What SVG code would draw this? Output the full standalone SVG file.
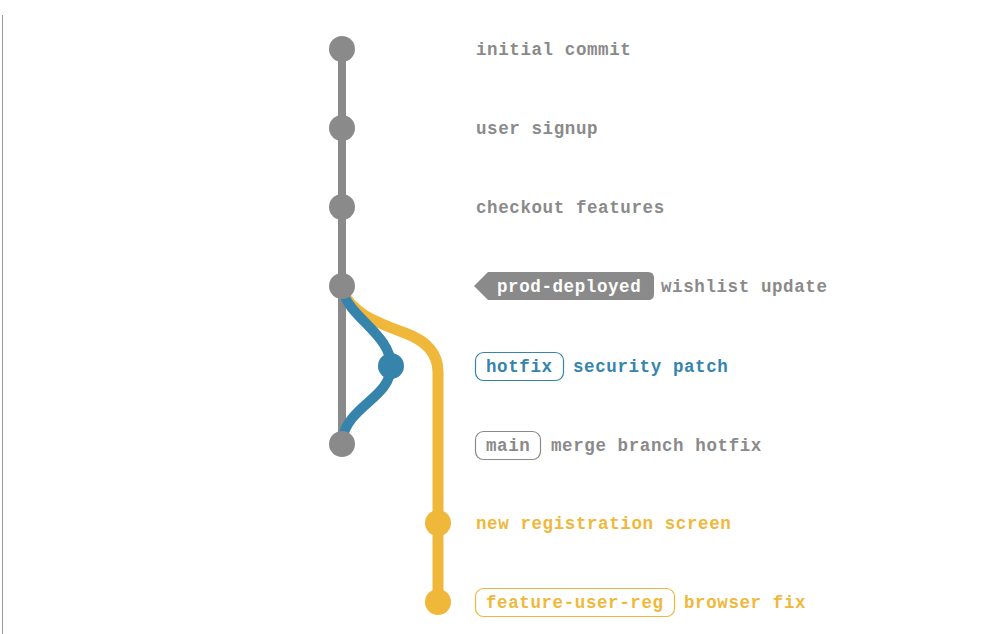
<svg xmlns="http://www.w3.org/2000/svg" width="992" height="634" viewBox="0 0 992 634">
<style>
.t{font-family:"Liberation Mono","DejaVu Sans Mono",monospace;font-weight:bold;font-size:17.5px;letter-spacing:0.6px;dominant-baseline:central}
.g{fill:#8a8a8a}.b{fill:#3684ac}.y{fill:#efb83a}
</style>
<rect width="992" height="634" fill="#fff"/>
<line x1="2.5" y1="15" x2="2.5" y2="634" stroke="#999" stroke-width="1"/>
<g id="connectors" fill="none" stroke-linecap="round">
<line x1="342" y1="49" x2="342" y2="444" stroke="#8a8a8a" stroke-width="8"/>
<path d="M342,290 C350,312 375,322 405,333 Q438,345 438,372 L438,602" stroke="#efb83a" stroke-width="11"/>
<path d="M342,290 C350,318 391,335 391,366 C391,398 348,405 342,440" stroke="#3684ac" stroke-width="10"/>
</g>
<g id="n1"><circle cx="342" cy="49" r="13" fill="#8a8a8a"/><text class="t g" x="476" y="50">initial commit</text></g>
<g id="n2"><circle cx="342" cy="128" r="13" fill="#8a8a8a"/><text class="t g" x="476" y="129">user signup</text></g>
<g id="n3"><circle cx="342" cy="207" r="13" fill="#8a8a8a"/><text class="t g" x="476" y="208">checkout features</text></g>
<g id="n4"><circle cx="342" cy="286" r="13" fill="#8a8a8a"/>
<path d="M474,286 L488,272 H648 Q654,272 654,278 V294 Q654,300 648,300 H488 Z" fill="#8a8a8a"/>
<text class="t" x="497" y="287" fill="#fff">prod-deployed</text>
<text class="t g" x="661" y="287">wishlist update</text></g>
<g id="n5"><circle cx="391" cy="366" r="13" fill="#3684ac"/>
<rect x="475.5" y="352.5" width="88" height="28" rx="8" fill="none" stroke="#3684ac" stroke-width="1.2"/>
<text class="t b" x="486" y="367">hotfix</text><text class="t b" x="573" y="367">security patch</text></g>
<g id="n6"><circle cx="342" cy="444" r="13" fill="#8a8a8a"/>
<rect x="475.5" y="431.5" width="65" height="28" rx="8" fill="none" stroke="#8a8a8a" stroke-width="1.2"/>
<text class="t g" x="486" y="446">main</text><text class="t g" x="551" y="446">merge branch hotfix</text></g>
<g id="n7"><circle cx="438" cy="523" r="13" fill="#efb83a"/><text class="t y" x="476" y="524">new registration screen</text></g>
<g id="n8"><circle cx="438" cy="602" r="13" fill="#efb83a"/>
<rect x="475.5" y="588.5" width="199" height="28" rx="8" fill="none" stroke="#efb83a" stroke-width="1.2"/>
<text class="t y" x="486" y="603">feature-user-reg</text><text class="t y" x="684" y="603">browser fix</text></g>
</svg>
